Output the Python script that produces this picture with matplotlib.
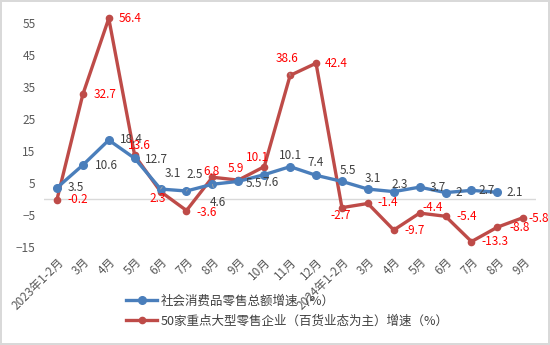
import matplotlib.pyplot as plt

plt.rcParams['font.family'] = ['Noto Sans CJK SC', 'DejaVu Sans']

months = ['2023年1-2月', '3月', '4月', '5月', '6月', '7月', '8月', '9月', '10月',
          '11月', '12月', '2024年1-2月', '3月', '4月', '5月', '6月', '7月', '8月', '9月']
retail_total = [3.5, 10.6, 18.4, 12.7, 3.1, 2.5, 4.6, 5.5, 7.6, 10.1, 7.4,
                5.5, 3.1, 2.3, 3.7, 2, 2.7, 2.1]
big_retail = [-0.2, 32.7, 56.4, 13.6, 2.3, -3.6, 6.8, 5.9, 10.1, 38.6, 42.4,
              -2.7, -1.4, -9.7, -4.4, -5.4, -13.3, -8.8, -5.8]
yticks = [-15, -5, 5, 15, 25, 35, 45, 55]

name_blue = '社会消费品零售总额增速（%）'
name_red = '50家重点大型零售企业（百货业态为主）增速（%）'

# label offsets in pixels (dx, dy)
blue_off = [(19, 0), (24, 0), (23, 1), (22, -1), (12, 16), (8, 16), (5, -18),
            (16, -2), (6, -8), (0, 11), (0, 13), (6, 11), (5, 11), (6, 7),
            (18, 0), (13, 0), (15, 0), (17, 0)]
blue_lead = [4, 5, 6]
red_off = [(21, 0), (22, 0), (21, 0), (5, 10), (-3, -7), (20, -2), (-1, 6),
           (-2, 12), (-7, 9), (-3, 17), (20, 0), (-1, -8), (20, 1), (21, 0),
           (13, 6), (21, 0), (23, 0), (22, 0), (15, -1)]
red_lead = [9]

blue = '#4a7ebb'
red = '#be4b48'

fig = plt.figure(figsize=(5.5, 3.45), dpi=100)
fig.patch.set_edgecolor('#d9d9d9')
fig.patch.set_linewidth(1.5)
ax = fig.add_axes([0.08, 0.284, 0.895, 0.696])

x = list(range(len(months)))
ax.axhline(0, color='#d9d9d9', lw=1, zorder=1)
ax.plot(x[:len(retail_total)], retail_total, color=blue, lw=2.4, marker='o',
        ms=5.5, zorder=3, label=name_blue)
ax.plot(x, big_retail, color=red, lw=2.4, marker='o', ms=4.5, zorder=2,
        label=name_red)

for i, v in enumerate(retail_total):
    dx, dy = blue_off[i]
    ap = dict(arrowstyle='-', color='#a6a6a6', lw=0.6, shrinkA=4, shrinkB=3) if i in blue_lead else None
    ax.annotate(f'{v:g}', (i, v), xytext=(dx, dy), textcoords='offset pixels',
                ha='center', va='center', fontsize=8.5, color='#404040',
                arrowprops=ap, zorder=4)
for i, v in enumerate(big_retail):
    dx, dy = red_off[i]
    ap = dict(arrowstyle='-', color='#a6a6a6', lw=0.6, shrinkA=4, shrinkB=3) if i in red_lead else None
    ax.annotate(f'{v:g}', (i, v), xytext=(dx, dy), textcoords='offset pixels',
                ha='center', va='center', fontsize=8.5, color='#ff0000',
                arrowprops=ap, zorder=4)

ax.set_xlim(-0.5, len(months) - 0.5)
ax.set_ylim(-15, 60)
ax.set_yticks(yticks)
ax.set_xticks(x)
ax.set_xticklabels(months, rotation=45, ha='right', rotation_mode='anchor')
ax.tick_params(length=0, labelsize=8.5, labelcolor='#595959')
ax.tick_params(axis='x', pad=6)
ax.tick_params(axis='y', pad=6)
for s in ax.spines.values():
    s.set_visible(False)

fig.legend(loc='upper left', bbox_to_anchor=(0.22, 0.16), frameon=False,
           fontsize=9, handlelength=2.5, handletextpad=0.3, labelspacing=0.55,
           labelcolor='#404040', borderaxespad=0)

fig.savefig('out.png', dpi=100)
